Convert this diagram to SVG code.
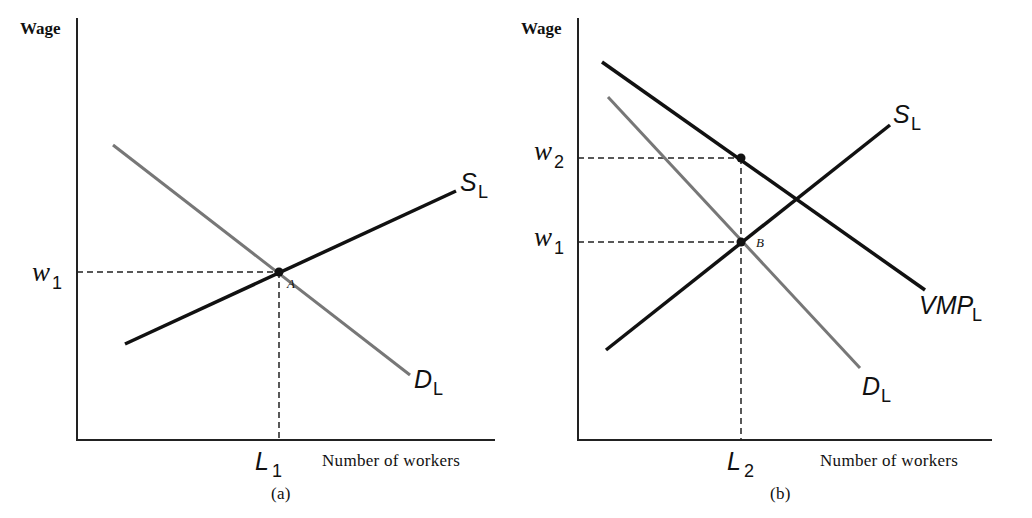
<svg xmlns="http://www.w3.org/2000/svg" width="1032" height="518" viewBox="0 0 1032 518">
<style>
.ax{stroke:#222;stroke-width:2;fill:none}
.blk{stroke:#111;stroke-width:3.5;fill:none}
.gry{stroke:#777;stroke-width:3;fill:none}
.dash{stroke:#222;stroke-width:1.5;stroke-dasharray:6,4;fill:none}
.sm{font-family:"Liberation Serif",serif;font-size:17px;font-weight:bold;fill:#111}
.nw{font-family:"Liberation Serif",serif;font-size:17px;fill:#111;letter-spacing:0.3px}
.big{font-family:"Liberation Sans",sans-serif;font-size:25px;font-style:italic;fill:#111}
.it{font-family:"Liberation Serif",serif;font-size:27px;font-style:italic;fill:#111}
.sub{font-family:"Liberation Sans",sans-serif;font-size:18px;fill:#111}
.pt{font-family:"Liberation Serif",serif;font-size:13px;font-style:italic;fill:#111}
</style>
<rect width="1032" height="518" fill="#fff"/>
<g id="connectors">
<path class="ax" d="M77,18 V440 H495"/>
<path class="ax" d="M578,18 V440 H992"/>
<line class="dash" x1="77" y1="272" x2="279" y2="272"/>
<line class="dash" x1="279" y1="272" x2="279" y2="440"/>
<line class="gry" x1="113" y1="145" x2="410" y2="375"/>
<line class="blk" x1="125" y1="344" x2="456" y2="191"/>
<line class="dash" x1="578" y1="158" x2="741" y2="158"/>
<line class="dash" x1="578" y1="242" x2="741" y2="242"/>
<line class="dash" x1="741" y1="158" x2="741" y2="440"/>
<line class="gry" x1="608" y1="97" x2="860" y2="368"/>
<line class="blk" x1="602" y1="62" x2="925" y2="290"/>
<line class="blk" x1="606" y1="350" x2="890" y2="125"/>
</g>
<g id="pointA"><circle cx="279" cy="272" r="4.5" fill="#111"/><text class="pt" x="287" y="288">A</text></g>
<g id="pointB"><circle cx="741" cy="242" r="4.5" fill="#111"/><text class="pt" x="756" y="247">B</text></g>
<g id="pointV"><circle cx="741" cy="158" r="4.5" fill="#111"/></g>
<g id="labels-a">
<text class="sm" x="20" y="34">Wage</text>
<text class="it" x="32" y="281">w</text><text class="sub" x="52" y="289">1</text>
<text class="big" x="460" y="191">S</text><text class="sub" x="478" y="198">L</text>
<text class="big" x="414" y="388">D</text><text class="sub" x="433" y="395">L</text>
<text class="big" x="255" y="470">L</text><text class="sub" x="272" y="477">1</text>
<text class="nw" x="322" y="466">Number of workers</text>
<text class="nw" x="271" y="499">(a)</text>
</g>
<g id="labels-b">
<text class="sm" x="521" y="34">Wage</text>
<text class="it" x="534" y="160">w</text><text class="sub" x="554" y="168">2</text>
<text class="it" x="534" y="246">w</text><text class="sub" x="554" y="254">1</text>
<text class="big" x="893" y="123">S</text><text class="sub" x="911" y="130">L</text>
<text class="big" x="919" y="314">VMP</text><text class="sub" x="972" y="321">L</text>
<text class="big" x="862" y="395">D</text><text class="sub" x="881" y="402">L</text>
<text class="big" x="727" y="470">L</text><text class="sub" x="744" y="477">2</text>
<text class="nw" x="820" y="466">Number of workers</text>
<text class="nw" x="770" y="499">(b)</text>
</g>
</svg>
